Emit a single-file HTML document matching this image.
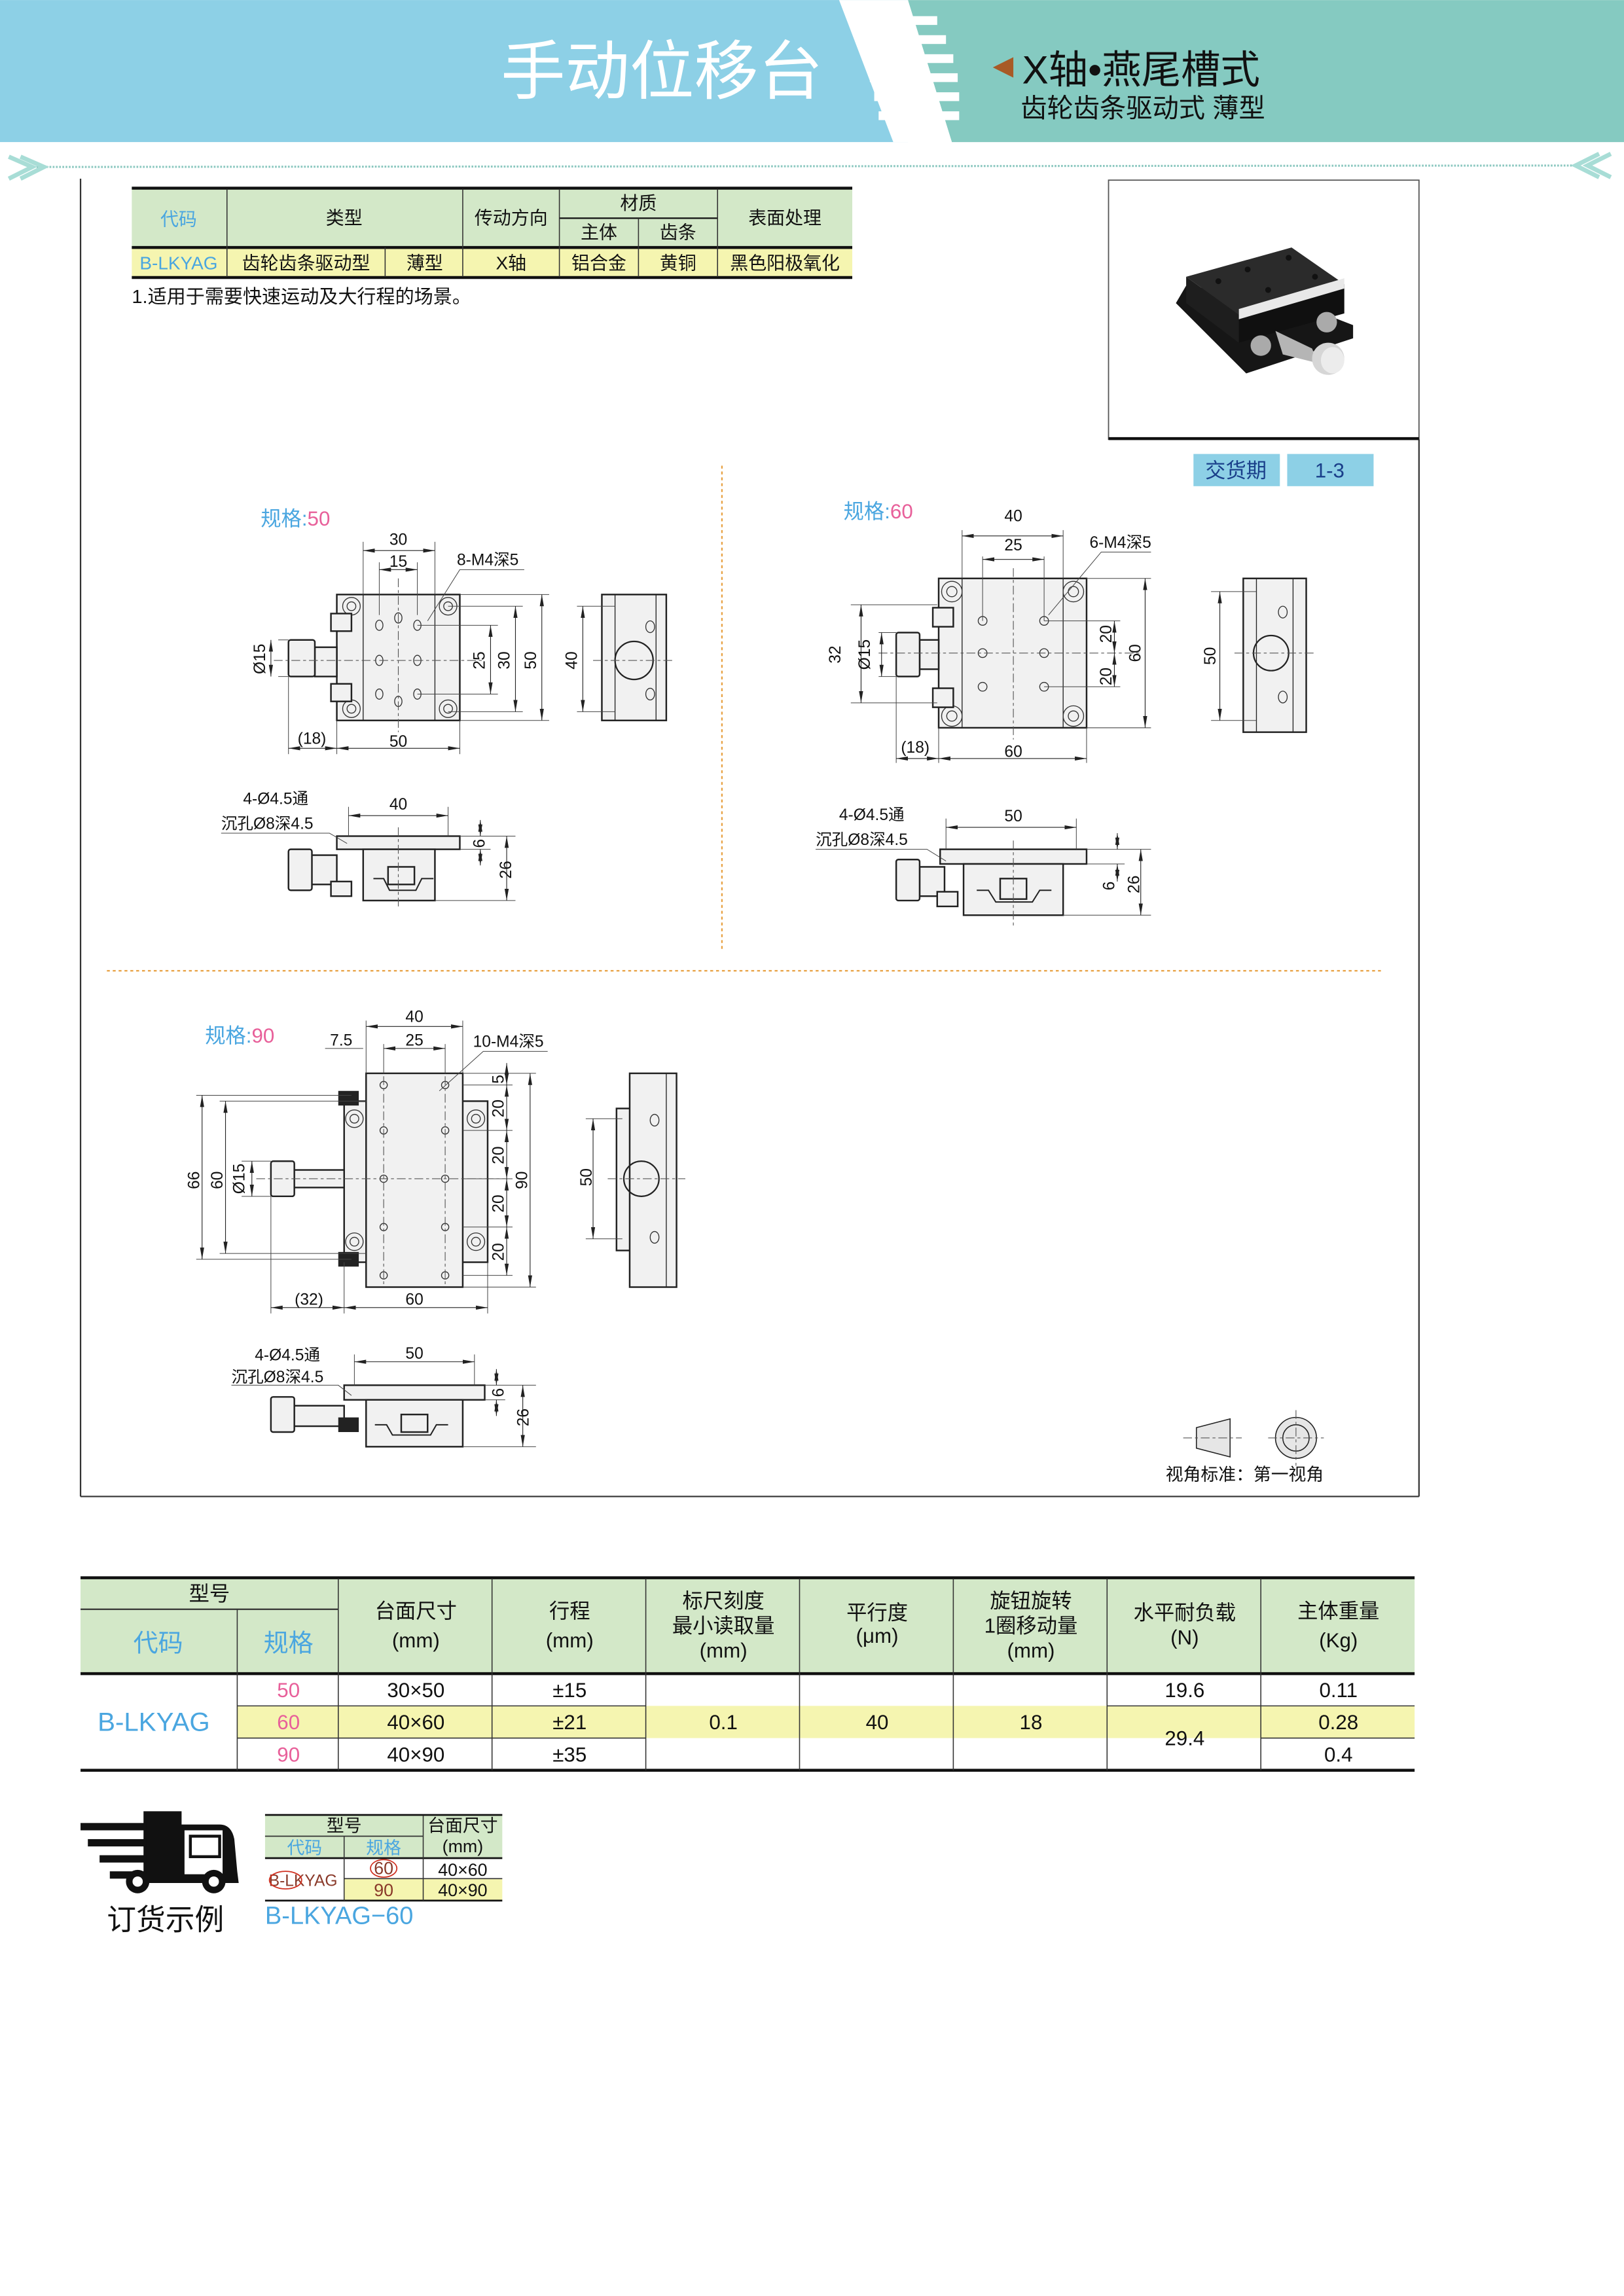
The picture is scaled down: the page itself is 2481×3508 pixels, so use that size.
<!DOCTYPE html>
<html><head><meta charset="utf-8"><style>
html,body{margin:0;padding:0;background:#fff}
svg{display:block}
text{font-family:"Liberation Sans","Noto Sans CJK SC",sans-serif;fill:#111}
.p{fill:#f1f1f1;stroke:#222;stroke-width:1.1}
.t{fill:none;stroke:#333;stroke-width:.6}
.c{fill:none;stroke:#555;stroke-width:.5;stroke-dasharray:6 2 2 2}
.d{fill:none;stroke:#222;stroke-width:.5;marker-start:url(#a);marker-end:url(#a)}
.e{fill:none;stroke:#444;stroke-width:.45}
.s{font-size:11px}
.g{stroke:#222;stroke-width:.6}
</style></head><body>
<svg width="2481" height="3508" viewBox="0 0 1109 1568" xmlns="http://www.w3.org/2000/svg">
<defs>
<marker id="a" markerWidth="8" markerHeight="4" refX="8" refY="2" orient="auto-start-reverse" markerUnits="userSpaceOnUse"><path d="M0,0.6L8,2L0,3.4z" fill="#222"/></marker>
</defs>
<!-- header -->
<rect x="0" y="0" width="620" height="97" fill="#8dd0e6"/>
<polygon points="620,0 1109,0 1109,97 650,97" fill="#85cac1"/>
<polygon points="573,0 620,0 650,97 610,97" fill="#fff"/>
<g fill="#fff">
<rect x="585" y="11" width="55" height="6"/><rect x="588" y="24" width="58" height="6"/><rect x="591" y="37" width="60" height="6"/><rect x="594" y="50" width="60" height="6"/><rect x="597" y="63" width="58" height="6"/><rect x="600" y="76" width="55" height="6"/>
</g>
<text x="452" y="64" font-size="44" text-anchor="middle" style="fill:#fff">手动位移台</text>
<polygon points="692,39 692,53 678,46" fill="#a85a26"/>
<text x="698" y="57" font-size="27">X轴•燕尾槽式</text>
<text x="697" y="80" font-size="18">齿轮齿条驱动式 薄型</text>
<line x1="25" y1="114" x2="1075" y2="113" stroke="#8cc8c0" stroke-width="1.4" stroke-dasharray="1.2 1"/>
<path d="M6,107 L22,114 L6,122 M14,107 L30,114 L14,122" stroke="#a8ddd6" stroke-width="3" fill="none"/>
<path d="M1092,105 L1076,113 L1092,121 M1100,105 L1084,113 L1100,121" stroke="#a8ddd6" stroke-width="3" fill="none"/>
<!-- frame -->
<line x1="55" y1="122" x2="55" y2="1022" stroke="#333" stroke-width="1"/>
<line x1="55" y1="1022" x2="969" y2="1022" stroke="#333" stroke-width="1"/>
<line x1="969" y1="300" x2="969" y2="1022" stroke="#333" stroke-width="1"/>
<rect x="757" y="123" width="212" height="177" fill="none" stroke="#555" stroke-width=".8"/>
<line x1="757" y1="299.5" x2="969" y2="299.5" stroke="#111" stroke-width="2"/>
<!-- photo -->
<polygon points="803,207 851,255 924,231 924,222 880,205 810,195" fill="#161616"/>
<polygon points="810,189 846,215 846,234 810,207" fill="#1e1e1e"/>
<polygon points="846,215 918,194 918,214 846,234" fill="#101010"/>
<polygon points="810,189 882,169 918,194 846,215" fill="#2b2b2b"/>
<polygon points="846,211 918,190 918,197 846,218" fill="#e8e8e8"/>
<g fill="#111"><circle cx="832" cy="192" r="2"/><circle cx="852" cy="184" r="2"/><circle cx="880" cy="176" r="2"/><circle cx="866" cy="198" r="2"/><circle cx="898" cy="189" r="2"/></g>
<ellipse cx="861" cy="236" rx="7" ry="7" fill="#aaa"/><ellipse cx="906" cy="220" rx="7" ry="7" fill="#aaa"/>
<polygon points="871,226 896,238 900,248 876,242" fill="#b5b5b5"/>
<ellipse cx="907" cy="245" rx="11" ry="11" fill="#d6d6d6"/><ellipse cx="910" cy="246" rx="8" ry="9" fill="#ececec"/>
<!-- top table -->
<rect x="90" y="129" width="492" height="40" fill="#d3e8c8"/>
<rect x="90" y="169" width="492" height="20" fill="#f5f5b0"/>
<line x1="90" y1="128.5" x2="582" y2="128.5" stroke="#111" stroke-width="2"/>
<line x1="90" y1="169" x2="582" y2="169" stroke="#111" stroke-width="2"/>
<line x1="90" y1="189.5" x2="582" y2="189.5" stroke="#111" stroke-width="2"/>
<line x1="382" y1="149" x2="490" y2="149" stroke="#111" stroke-width="1"/>
<g stroke="#333" stroke-width=".7"><line x1="155" y1="129" x2="155" y2="189"/><line x1="316" y1="129" x2="316" y2="189"/><line x1="382" y1="129" x2="382" y2="189"/><line x1="436" y1="149" x2="436" y2="189"/><line x1="490" y1="129" x2="490" y2="189"/><line x1="263" y1="169" x2="263" y2="189"/></g>
<g font-size="12.5" text-anchor="middle">
<text x="122" y="154" style="fill:#4aa6e0">代码</text><text x="235" y="153">类型</text><text x="349" y="153">传动方向</text><text x="436" y="143">材质</text><text x="409" y="163">主体</text><text x="463" y="163">齿条</text><text x="536" y="153">表面处理</text>
<text x="122" y="184" style="fill:#4aa6e0">B-LKYAG</text><text x="209" y="184">齿轮齿条驱动型</text><text x="290" y="184">薄型</text><text x="349" y="184">X轴</text><text x="409" y="184">铝合金</text><text x="463" y="184">黄铜</text><text x="536" y="184">黑色阳极氧化</text>
</g>
<text x="90" y="207" font-size="13">1.适用于需要快速运动及大行程的场景。</text>
<!-- delivery -->
<rect x="815" y="310" width="59" height="22" fill="#8dd0e6"/><rect x="879" y="310" width="59" height="22" fill="#8dd0e6"/>
<text x="844" y="326" font-size="14" text-anchor="middle" style="fill:#1a3f8a">交货期</text><text x="908" y="326" font-size="14" text-anchor="middle" style="fill:#1a3f8a">1-3</text>
<!-- separators -->
<line x1="493" y1="318" x2="493" y2="648" stroke="#e8a040" stroke-width="1" stroke-dasharray="2 2"/>
<line x1="73" y1="663" x2="945" y2="663" stroke="#e8a040" stroke-width="1" stroke-dasharray="2 2"/>

<!-- ===== spec 50 ===== -->
<text x="178" y="359" font-size="14" style="fill:#4aa6e0">规格:<tspan style="fill:#e8609a">50</tspan></text>
<rect class="p" x="230" y="406" width="84" height="86"/>
<line class="g" x1="248" y1="406" x2="248" y2="492"/><line class="g" x1="297" y1="406" x2="297" y2="492"/>
<g class="t"><circle cx="240" cy="414" r="6"/><circle cx="240" cy="414" r="3"/><circle cx="306" cy="414" r="6"/><circle cx="306" cy="414" r="3"/><circle cx="240" cy="484" r="6"/><circle cx="240" cy="484" r="3"/><circle cx="306" cy="484" r="6"/><circle cx="306" cy="484" r="3"/>
<ellipse cx="259" cy="427" rx="2.5" ry="3.5"/><ellipse cx="285" cy="427" rx="2.5" ry="3.5"/><ellipse cx="259" cy="451" rx="2.5" ry="3.5"/><ellipse cx="285" cy="451" rx="2.5" ry="3.5"/><ellipse cx="259" cy="474" rx="2.5" ry="3.5"/><ellipse cx="285" cy="474" rx="2.5" ry="3.5"/><ellipse cx="272" cy="422" rx="2.5" ry="3.5"/><ellipse cx="272" cy="479" rx="2.5" ry="3.5"/></g>
<rect class="p" x="215" y="442" width="15" height="20"/><rect class="p" x="197" y="437" width="18" height="25" rx="1.5"/>
<rect class="p" x="226" y="419" width="14" height="12"/><rect class="p" x="226" y="467" width="14" height="12"/>
<line class="c" x1="187" y1="451" x2="330" y2="451"/><line class="c" x1="272" y1="395" x2="272" y2="500"/>
<line class="e" x1="248" y1="370" x2="248" y2="406"/><line class="e" x1="297" y1="370" x2="297" y2="406"/><line class="d" x1="248" y1="376" x2="297" y2="376"/><text class="s" x="272" y="372" text-anchor="middle">30</text>
<line class="e" x1="259" y1="384" x2="259" y2="420"/><line class="e" x1="285" y1="384" x2="285" y2="420"/><line class="d" x1="259" y1="389" x2="285" y2="389"/><text class="s" x="272" y="387" text-anchor="middle">15</text>
<text class="s" x="312" y="386">8-M4深5</text><polyline class="e" points="358,389 314,389 292,424"/>
<line class="e" x1="285" y1="427" x2="340" y2="427"/><line class="e" x1="285" y1="474" x2="340" y2="474"/><line class="e" x1="306" y1="414" x2="357" y2="414"/><line class="e" x1="306" y1="486" x2="357" y2="486"/><line class="e" x1="314" y1="406" x2="375" y2="406"/><line class="e" x1="314" y1="492" x2="375" y2="492"/>
<line class="d" x1="335" y1="427" x2="335" y2="474"/><line class="d" x1="352" y1="414" x2="352" y2="486"/><line class="d" x1="370" y1="406" x2="370" y2="492"/>
<text class="s" transform="translate(331,451) rotate(-90)" text-anchor="middle">25</text><text class="s" transform="translate(348,451) rotate(-90)" text-anchor="middle">30</text><text class="s" transform="translate(366,451) rotate(-90)" text-anchor="middle">50</text>
<line class="e" x1="190" y1="437" x2="197" y2="437"/><line class="e" x1="190" y1="462" x2="197" y2="462"/><line class="d" x1="185" y1="437" x2="185" y2="462"/><text class="s" transform="translate(181,450) rotate(-90)" text-anchor="middle">Ø15</text>
<line class="e" x1="197" y1="462" x2="197" y2="515"/><line class="e" x1="230" y1="492" x2="230" y2="515"/><line class="e" x1="314" y1="492" x2="314" y2="515"/>
<line class="d" x1="197" y1="511" x2="230" y2="511"/><line class="d" x1="230" y1="511" x2="314" y2="511"/><text class="s" x="213" y="508" text-anchor="middle">(18)</text><text class="s" x="272" y="510" text-anchor="middle">50</text>
<!-- side 50 -->
<rect class="p" x="411" y="406" width="44" height="86"/><line class="g" x1="420" y1="406" x2="420" y2="492"/><line class="g" x1="448" y1="406" x2="448" y2="492"/>
<circle class="t" cx="433" cy="451" r="13" style="stroke:#222;stroke-width:1"/><ellipse class="t" cx="444" cy="428" rx="3" ry="4"/><ellipse class="t" cx="444" cy="474" rx="3" ry="4"/>
<line class="c" x1="405" y1="451" x2="460" y2="451"/>
<line class="e" x1="394" y1="414" x2="420" y2="414"/><line class="e" x1="394" y1="486" x2="420" y2="486"/><line class="d" x1="398" y1="414" x2="398" y2="486"/><text class="s" transform="translate(394,451) rotate(-90)" text-anchor="middle">40</text>
<!-- front 50 -->
<rect class="p" x="230" y="571" width="84" height="9"/><rect class="p" x="248" y="580" width="49" height="35"/>
<rect class="p" x="212" y="584" width="18" height="20"/><rect class="p" x="197" y="580" width="16" height="28" rx="1.5"/><rect class="p" x="226" y="602" width="14" height="10"/>
<polyline class="t" points="255,600 262,600 266,608 284,608 288,600 296,600" style="stroke:#222;stroke-width:.9"/><rect class="p" x="265" y="592" width="18" height="12"/>
<line class="c" x1="272" y1="565" x2="272" y2="620"/>
<line class="e" x1="238" y1="551" x2="238" y2="571"/><line class="e" x1="306" y1="551" x2="306" y2="571"/><line class="d" x1="238" y1="557" x2="306" y2="557"/><text class="s" x="272" y="553" text-anchor="middle">40</text>
<text class="s" x="166" y="549">4-Ø4.5通</text><text class="s" x="151" y="566">沉孔Ø8深4.5</text><polyline class="e" points="151,569 225,569 237,576"/>
<line class="e" x1="314" y1="571" x2="352" y2="571"/><line class="e" x1="314" y1="580" x2="335" y2="580"/><line class="e" x1="297" y1="615" x2="352" y2="615"/>
<line class="d" x1="328" y1="560" x2="328" y2="571"/><line class="d" x1="328" y1="591" x2="328" y2="580"/><text class="s" transform="translate(331,576) rotate(-90)" text-anchor="middle">6</text>
<line class="d" x1="346" y1="571" x2="346" y2="615"/><text class="s" transform="translate(349,594) rotate(-90)" text-anchor="middle">26</text>

<!-- ===== spec 60 ===== -->
<text x="576" y="354" font-size="14" style="fill:#4aa6e0">规格:<tspan style="fill:#e8609a">60</tspan></text>
<rect class="p" x="641" y="395" width="101" height="102"/>
<line class="g" x1="657" y1="395" x2="657" y2="497"/><line class="g" x1="726" y1="395" x2="726" y2="497"/>
<g class="t"><circle cx="650" cy="404" r="7"/><circle cx="650" cy="404" r="3.5"/><circle cx="733" cy="404" r="7"/><circle cx="733" cy="404" r="3.5"/><circle cx="650" cy="489" r="7"/><circle cx="650" cy="489" r="3.5"/><circle cx="733" cy="489" r="7"/><circle cx="733" cy="489" r="3.5"/>
<circle cx="671" cy="424" r="3"/><circle cx="713" cy="424" r="3"/><circle cx="671" cy="446" r="3"/><circle cx="713" cy="446" r="3"/><circle cx="671" cy="469" r="3"/><circle cx="713" cy="469" r="3"/></g>
<rect class="p" x="628" y="437" width="13" height="20"/><rect class="p" x="612" y="432" width="16" height="30" rx="1.5"/>
<rect class="p" x="637" y="415" width="14" height="13"/><rect class="p" x="637" y="470" width="14" height="13"/>
<line class="c" x1="600" y1="446" x2="780" y2="446"/><line class="c" x1="692" y1="388" x2="692" y2="505"/>
<line class="e" x1="657" y1="362" x2="657" y2="395"/><line class="e" x1="726" y1="362" x2="726" y2="395"/><line class="d" x1="657" y1="366" x2="726" y2="366"/><text class="s" x="692" y="356" text-anchor="middle">40</text>
<line class="e" x1="671" y1="380" x2="671" y2="424"/><line class="e" x1="713" y1="380" x2="713" y2="424"/><line class="d" x1="671" y1="382" x2="713" y2="382"/><text class="s" x="692" y="376" text-anchor="middle">25</text>
<text class="s" x="744" y="374">6-M4深5</text><polyline class="e" points="786,377 752,377 716,420"/>
<line class="e" x1="713" y1="424" x2="765" y2="424"/><line class="e" x1="713" y1="469" x2="765" y2="469"/><line class="e" x1="742" y1="395" x2="786" y2="395"/><line class="e" x1="742" y1="497" x2="786" y2="497"/>
<line class="d" x1="761" y1="424" x2="761" y2="446"/><line class="d" x1="761" y1="446" x2="761" y2="469"/><line class="d" x1="782" y1="395" x2="782" y2="497"/>
<text class="s" transform="translate(759,433) rotate(-90)" text-anchor="middle">20</text><text class="s" transform="translate(759,462) rotate(-90)" text-anchor="middle">20</text><text class="s" transform="translate(779,446) rotate(-90)" text-anchor="middle">60</text>
<line class="e" x1="581" y1="413" x2="640" y2="413"/><line class="e" x1="581" y1="480" x2="640" y2="480"/><line class="d" x1="588" y1="413" x2="588" y2="480"/><text class="s" transform="translate(574,447) rotate(-90)" text-anchor="middle">32</text>
<line class="e" x1="600" y1="432" x2="612" y2="432"/><line class="e" x1="600" y1="462" x2="612" y2="462"/><line class="d" x1="602" y1="432" x2="602" y2="462"/><text class="s" transform="translate(594,447) rotate(-90)" text-anchor="middle">Ø15</text>
<line class="e" x1="612" y1="462" x2="612" y2="521"/><line class="e" x1="641" y1="497" x2="641" y2="521"/><line class="e" x1="742" y1="497" x2="742" y2="521"/>
<line class="d" x1="612" y1="518" x2="641" y2="518"/><line class="d" x1="641" y1="518" x2="742" y2="518"/><text class="s" x="625" y="514" text-anchor="middle">(18)</text><text class="s" x="692" y="517" text-anchor="middle">60</text>
<!-- side 60 -->
<rect class="p" x="849" y="395" width="43" height="105"/><line class="g" x1="858" y1="395" x2="858" y2="500"/><line class="g" x1="883" y1="395" x2="883" y2="500"/>
<circle class="t" cx="868" cy="446" r="12" style="stroke:#222;stroke-width:1"/><ellipse class="t" cx="876" cy="418" rx="3" ry="4"/><ellipse class="t" cx="876" cy="476" rx="3" ry="4"/>
<line class="c" x1="843" y1="446" x2="898" y2="446"/>
<line class="e" x1="827" y1="404" x2="858" y2="404"/><line class="e" x1="827" y1="492" x2="858" y2="492"/><line class="d" x1="833" y1="404" x2="833" y2="492"/><text class="s" transform="translate(830,448) rotate(-90)" text-anchor="middle">50</text>
<!-- front 60 -->
<rect class="p" x="642" y="580" width="100" height="10"/><rect class="p" x="658" y="590" width="68" height="35"/>
<rect class="p" x="628" y="592" width="17" height="20"/><rect class="p" x="612" y="587" width="16" height="28" rx="1.5"/><rect class="p" x="640" y="609" width="14" height="10"/>
<polyline class="t" points="667,608 675,608 680,616 705,616 710,608 718,608" style="stroke:#222;stroke-width:.9"/><rect class="p" x="683" y="600" width="18" height="14"/>
<line class="c" x1="692" y1="574" x2="692" y2="632"/>
<line class="e" x1="646" y1="559" x2="646" y2="580"/><line class="e" x1="735" y1="559" x2="735" y2="580"/><line class="d" x1="646" y1="565" x2="735" y2="565"/><text class="s" x="692" y="561" text-anchor="middle">50</text>
<text class="s" x="573" y="560">4-Ø4.5通</text><text class="s" x="557" y="577">沉孔Ø8深4.5</text><polyline class="e" points="557,580 633,580 646,588"/>
<line class="e" x1="742" y1="580" x2="786" y2="580"/><line class="e" x1="742" y1="590" x2="768" y2="590"/><line class="e" x1="726" y1="625" x2="786" y2="625"/>
<line class="d" x1="763" y1="569" x2="763" y2="580"/><line class="d" x1="763" y1="602" x2="763" y2="590"/><text class="s" transform="translate(761,605) rotate(-90)" text-anchor="middle">6</text>
<line class="d" x1="779" y1="580" x2="779" y2="625"/><text class="s" transform="translate(778,604) rotate(-90)" text-anchor="middle">26</text>

<!-- ===== spec 90 ===== -->
<text x="140" y="712" font-size="14" style="fill:#4aa6e0">规格:<tspan style="fill:#e8609a">90</tspan></text>
<rect class="p" x="235" y="752" width="98" height="110"/>
<rect class="p" x="250" y="733" width="66" height="146"/>
<g class="t"><circle cx="242" cy="764" r="6"/><circle cx="242" cy="764" r="3"/><circle cx="325" cy="764" r="6"/><circle cx="325" cy="764" r="3"/><circle cx="242" cy="848" r="6"/><circle cx="242" cy="848" r="3"/><circle cx="325" cy="848" r="6"/><circle cx="325" cy="848" r="3"/>
<circle cx="262" cy="741" r="2.5"/><circle cx="304" cy="741" r="2.5"/><circle cx="262" cy="772" r="2.5"/><circle cx="304" cy="772" r="2.5"/><circle cx="262" cy="805" r="2.5"/><circle cx="304" cy="805" r="2.5"/><circle cx="262" cy="838" r="2.5"/><circle cx="304" cy="838" r="2.5"/><circle cx="262" cy="871" r="2.5"/><circle cx="304" cy="871" r="2.5"/></g>
<rect class="p" x="200" y="799" width="35" height="12"/><rect class="p" x="185" y="793" width="16" height="24" rx="1.5"/>
<rect x="231" y="745" width="14" height="10" fill="#222"/><rect x="231" y="855" width="14" height="10" fill="#222"/>
<line class="c" x1="175" y1="805" x2="345" y2="805"/><line class="c" x1="262" y1="735" x2="262" y2="877"/><line class="c" x1="304" y1="735" x2="304" y2="877"/>
<line class="e" x1="250" y1="697" x2="250" y2="733"/><line class="e" x1="316" y1="697" x2="316" y2="733"/><line class="d" x1="250" y1="701" x2="316" y2="701"/><text class="s" x="283" y="698" text-anchor="middle">40</text>
<line class="e" x1="262" y1="713" x2="262" y2="733"/><line class="e" x1="304" y1="713" x2="304" y2="733"/><line class="d" x1="262" y1="716" x2="304" y2="716"/><text class="s" x="283" y="714" text-anchor="middle">25</text>
<line class="e" x1="222" y1="716" x2="248" y2="716"/><text class="s" x="233" y="714" text-anchor="middle">7.5</text>
<text class="s" x="323" y="715">10-M4深5</text><polyline class="e" points="374,718 330,718 300,745"/>
<line class="e" x1="316" y1="741" x2="350" y2="741"/><line class="e" x1="316" y1="772" x2="350" y2="772"/><line class="e" x1="316" y1="805" x2="350" y2="805"/><line class="e" x1="316" y1="838" x2="350" y2="838"/><line class="e" x1="316" y1="871" x2="350" y2="871"/><line class="e" x1="316" y1="733" x2="366" y2="733"/><line class="e" x1="316" y1="879" x2="366" y2="879"/>
<line class="d" x1="346" y1="726" x2="346" y2="741"/><line class="d" x1="346" y1="741" x2="346" y2="772"/><line class="d" x1="346" y1="772" x2="346" y2="805"/><line class="d" x1="346" y1="805" x2="346" y2="838"/><line class="d" x1="346" y1="838" x2="346" y2="871"/><line class="d" x1="362" y1="733" x2="362" y2="879"/>
<text class="s" transform="translate(344,737) rotate(-90)" text-anchor="middle">5</text><text class="s" transform="translate(344,757) rotate(-90)" text-anchor="middle">20</text><text class="s" transform="translate(344,789) rotate(-90)" text-anchor="middle">20</text><text class="s" transform="translate(344,822) rotate(-90)" text-anchor="middle">20</text><text class="s" transform="translate(344,855) rotate(-90)" text-anchor="middle">20</text><text class="s" transform="translate(360,806) rotate(-90)" text-anchor="middle">90</text>
<line class="e" x1="134" y1="748" x2="240" y2="748"/><line class="e" x1="134" y1="860" x2="240" y2="860"/><line class="e" x1="150" y1="752" x2="250" y2="752"/><line class="e" x1="150" y1="856" x2="250" y2="856"/>
<line class="d" x1="138" y1="748" x2="138" y2="860"/><line class="d" x1="154" y1="752" x2="154" y2="856"/>
<text class="s" transform="translate(136,806) rotate(-90)" text-anchor="middle">66</text><text class="s" transform="translate(152,806) rotate(-90)" text-anchor="middle">60</text>
<line class="e" x1="165" y1="793" x2="185" y2="793"/><line class="e" x1="165" y1="817" x2="185" y2="817"/><line class="d" x1="172" y1="793" x2="172" y2="817"/><text class="s" transform="translate(167,805) rotate(-90)" text-anchor="middle">Ø15</text>
<line class="e" x1="185" y1="817" x2="185" y2="897"/><line class="e" x1="235" y1="862" x2="235" y2="897"/><line class="e" x1="333" y1="862" x2="333" y2="897"/>
<line class="d" x1="185" y1="893" x2="235" y2="893"/><line class="d" x1="235" y1="893" x2="333" y2="893"/><text class="s" x="211" y="891" text-anchor="middle">(32)</text><text class="s" x="283" y="891" text-anchor="middle">60</text>
<!-- side 90 -->
<rect class="p" x="421" y="757" width="10" height="97"/>
<rect class="p" x="430" y="733" width="32" height="146"/><line class="g" x1="455" y1="733" x2="455" y2="879"/>
<circle class="t" cx="438" cy="805" r="12" style="stroke:#222;stroke-width:1"/><ellipse class="t" cx="447" cy="765" rx="3" ry="4"/><ellipse class="t" cx="447" cy="845" rx="3" ry="4"/>
<line class="c" x1="415" y1="805" x2="468" y2="805"/>
<line class="e" x1="400" y1="764" x2="425" y2="764"/><line class="e" x1="400" y1="846" x2="425" y2="846"/><line class="d" x1="405" y1="764" x2="405" y2="846"/><text class="s" transform="translate(404,804) rotate(-90)" text-anchor="middle">50</text>
<!-- front 90 -->
<rect class="p" x="235" y="946" width="96" height="10"/><rect class="p" x="250" y="956" width="66" height="32"/>
<rect class="p" x="200" y="960" width="35" height="14"/><rect class="p" x="185" y="954" width="16" height="24" rx="1.5"/><rect x="231" y="968" width="14" height="10" fill="#222"/>
<polyline class="t" points="256,973 264,973 268,980 294,980 298,973 306,973" style="stroke:#222;stroke-width:.9"/><rect class="p" x="274" y="966" width="18" height="12"/>
<line class="e" x1="242" y1="925" x2="242" y2="946"/><line class="e" x1="324" y1="925" x2="324" y2="946"/><line class="d" x1="242" y1="930" x2="324" y2="930"/><text class="s" x="283" y="928" text-anchor="middle">50</text>
<text class="s" x="174" y="929">4-Ø4.5通</text><text class="s" x="158" y="944">沉孔Ø8深4.5</text><polyline class="e" points="158,946 231,946 240,953"/>
<line class="e" x1="331" y1="946" x2="366" y2="946"/><line class="e" x1="331" y1="956" x2="345" y2="956"/><line class="e" x1="316" y1="988" x2="366" y2="988"/>
<line class="d" x1="339" y1="935" x2="339" y2="946"/><line class="d" x1="339" y1="967" x2="339" y2="956"/><text class="s" transform="translate(344,951) rotate(-90)" text-anchor="middle">6</text>
<line class="d" x1="357" y1="946" x2="357" y2="988"/><text class="s" transform="translate(361,968) rotate(-90)" text-anchor="middle">26</text>
<!-- view symbol -->
<polygon points="817,975 840,969 840,995 817,989" fill="#e6e6e6" stroke="#222" stroke-width=".7"/>
<line class="c" x1="808" y1="982" x2="848" y2="982"/>
<circle cx="885" cy="982" r="14" fill="#e6e6e6" stroke="#222" stroke-width=".7"/><circle cx="885" cy="982" r="9" fill="#e6e6e6" stroke="#222" stroke-width=".7"/>
<line class="c" x1="866" y1="982" x2="904" y2="982"/><line class="c" x1="885" y1="963" x2="885" y2="1001"/>
<text x="796" y="1011" font-size="12">视角标准：第一视角</text>

<!-- bottom table -->
<rect x="55" y="1078" width="911" height="65" fill="#d3e8c8"/>
<rect x="162" y="1165" width="804" height="22" fill="#f5f5b0"/>
<line x1="55" y1="1077.5" x2="966" y2="1077.5" stroke="#111" stroke-width="2"/>
<line x1="55" y1="1143" x2="966" y2="1143" stroke="#111" stroke-width="2"/>
<line x1="55" y1="1209" x2="966" y2="1209" stroke="#111" stroke-width="2"/>
<line x1="55" y1="1099" x2="231" y2="1099" stroke="#333" stroke-width="1"/>
<g stroke="#333" stroke-width=".7">
<line x1="162" y1="1099" x2="162" y2="1209"/><line x1="231" y1="1078" x2="231" y2="1209"/><line x1="336" y1="1078" x2="336" y2="1209"/><line x1="441" y1="1078" x2="441" y2="1209"/><line x1="546" y1="1078" x2="546" y2="1209"/><line x1="651" y1="1078" x2="651" y2="1209"/><line x1="756" y1="1078" x2="756" y2="1209"/><line x1="861" y1="1078" x2="861" y2="1209"/>
<line x1="162" y1="1165" x2="441" y2="1165"/><line x1="162" y1="1187" x2="441" y2="1187"/><line x1="756" y1="1165" x2="966" y2="1165"/><line x1="861" y1="1187" x2="966" y2="1187"/>
</g>
<g font-size="14" text-anchor="middle">
<text x="143" y="1093">型号</text>
<text x="108" y="1128" font-size="17" style="fill:#4aa6e0">代码</text><text x="197" y="1128" font-size="17" style="fill:#4aa6e0">规格</text>
<text x="284" y="1105">台面尺寸</text><text x="284" y="1125">(mm)</text>
<text x="389" y="1105">行程</text><text x="389" y="1125">(mm)</text>
<text x="494" y="1098">标尺刻度</text><text x="494" y="1115">最小读取量</text><text x="494" y="1132">(mm)</text>
<text x="599" y="1106">平行度</text><text x="599" y="1122">(μm)</text>
<text x="704" y="1098">旋钮旋转</text><text x="704" y="1115">1圈移动量</text><text x="704" y="1132">(mm)</text>
<text x="809" y="1106">水平耐负载</text><text x="809" y="1123">(N)</text>
<text x="914" y="1105">主体重量</text><text x="914" y="1125">(Kg)</text>
<text x="105" y="1182" font-size="18" style="fill:#4aa6e0">B-LKYAG</text>
<text x="197" y="1159" style="fill:#e8609a">50</text><text x="197" y="1181" style="fill:#e8609a">60</text><text x="197" y="1203" style="fill:#e8609a">90</text>
<text x="284" y="1159">30×50</text><text x="284" y="1181">40×60</text><text x="284" y="1203">40×90</text>
<text x="389" y="1159">±15</text><text x="389" y="1181">±21</text><text x="389" y="1203">±35</text>
<text x="494" y="1181">0.1</text><text x="599" y="1181">40</text><text x="704" y="1181">18</text>
<text x="809" y="1159">19.6</text><text x="809" y="1192">29.4</text>
<text x="914" y="1159">0.11</text><text x="914" y="1181">0.28</text><text x="914" y="1203">0.4</text>
</g>
<!-- order example -->
<g fill="#111">
<path d="M98,1237 L124,1237 L124,1246 L150,1246 Q158,1246 160,1256 L162,1278 L163,1286 L98,1286 Z"/>
<rect x="55" y="1245" width="45" height="5"/><rect x="60" y="1256" width="40" height="5"/><rect x="68" y="1267" width="32" height="5"/><rect x="75" y="1278" width="25" height="5"/>
<rect x="126" y="1250" width="26" height="30" fill="#fff"/><rect x="130" y="1254" width="20" height="14" fill="#fff" stroke="#111" stroke-width="2"/>
<circle cx="94" cy="1285" r="8"/><circle cx="146" cy="1285" r="8"/>
</g>
<circle cx="94" cy="1285" r="3.5" fill="#fff"/><circle cx="146" cy="1285" r="3.5" fill="#fff"/>
<text x="73" y="1318" font-size="20">订货示例</text>
<rect x="181" y="1240" width="162" height="29" fill="#d3e8c8"/><rect x="235" y="1283" width="108" height="15" fill="#f5f5b0"/>
<line x1="181" y1="1239.5" x2="343" y2="1239.5" stroke="#111" stroke-width="1.2"/><line x1="181" y1="1254" x2="289" y2="1254" stroke="#333" stroke-width=".8"/><line x1="181" y1="1269" x2="343" y2="1269" stroke="#111" stroke-width="1.2"/><line x1="181" y1="1298" x2="343" y2="1298" stroke="#111" stroke-width="1.2"/><line x1="235" y1="1283" x2="343" y2="1283" stroke="#333" stroke-width=".7"/>
<g stroke="#333" stroke-width=".7"><line x1="235" y1="1254" x2="235" y2="1298"/><line x1="289" y1="1240" x2="289" y2="1298"/></g>
<g font-size="12" text-anchor="middle">
<text x="235" y="1251">型号</text><text x="316" y="1251">台面尺寸</text><text x="316" y="1265">(mm)</text>
<text x="208" y="1266" style="fill:#4aa6e0">代码</text><text x="262" y="1266" style="fill:#4aa6e0">规格</text>
<text x="207" y="1288" font-size="11" style="fill:#8a3a2a">B-LKYAG</text>
<text x="262" y="1280" style="fill:#8a3a2a">60</text><text x="262" y="1295" style="fill:#8a3a2a">90</text>
<text x="316" y="1281">40×60</text><text x="316" y="1295">40×90</text>
</g>
<ellipse cx="262" cy="1276" rx="9" ry="6" fill="none" stroke="#d03020" stroke-width=".8"/>
<ellipse cx="195" cy="1284" rx="11" ry="6" fill="none" stroke="#d03020" stroke-width=".8"/>
<text x="181" y="1314" font-size="17" style="fill:#4aa6e0">B-LKYAG−60</text>
</svg>
</body></html>
